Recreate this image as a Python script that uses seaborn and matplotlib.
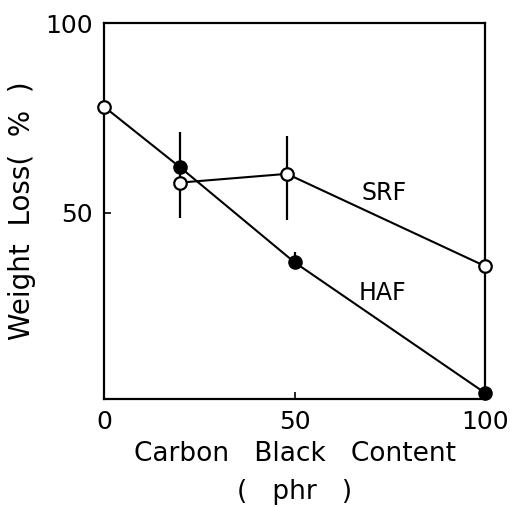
import pandas as pd
import matplotlib
matplotlib.use("Agg")
import matplotlib.pyplot as plt
import seaborn as sns

# -------- data --------
haf_x = [0, 20, 50, 100]
haf_y = [78, 62, 37, 2.6]
srf_x = [20, 48, 100]
srf_y = [58, 60.3, 36]
open_x = [0, 20, 48, 100]
open_y = [78, 58, 60.3, 36]
filled_x = [20, 50, 100]
filled_y = [62, 37, 2.6]
err_x = [20, 48, 50]
err_lo = [48.7, 48.2, 35.5]
err_hi = [71.3, 70.3, 39.7]
x_ticks = [0, 50, 100]
y_ticks = [50, 100]

haf = pd.DataFrame({"x": haf_x, "y": haf_y})
srf = pd.DataFrame({"x": srf_x, "y": srf_y})

sns.set_style("ticks", {"axes.edgecolor": "black", "text.color": "black",
                        "xtick.color": "black", "ytick.color": "black",
                        "axes.labelcolor": "black"})
plt.rcParams["font.family"] = ["DejaVu Sans"]

fig = plt.figure(figsize=(5.16, 5.07), dpi=100)
ax = fig.add_axes([0.2016, 0.213, 0.7384, 0.7414])

# error bars
ax.vlines(err_x, err_lo, err_hi, color="black", lw=1.6, zorder=2)

# lines
sns.lineplot(data=haf, x="x", y="y", ax=ax, color="black", lw=1.5, zorder=1)
sns.lineplot(data=srf, x="x", y="y", ax=ax, color="black", lw=1.5, zorder=1)

# markers
ax.plot(open_x, open_y, "o", ms=9, mfc="white", mec="black", mew=1.6,
        zorder=3, clip_on=False)
ax.plot(filled_x, filled_y, "o", ms=9.5, mfc="black", mec="black",
        zorder=4, clip_on=False)

ax.text(73.4, 55.3, "SRF", fontsize=17, ha="center", va="center", color="black")
ax.text(73, 29, "HAF", fontsize=17, ha="center", va="center", color="black")

ax.set_xlim(0, 100)
ax.set_ylim(1, 100)
ax.set_xticks(x_ticks)
ax.set_yticks(y_ticks)
ax.set_xticklabels(["0", "50", "100"], fontsize=18)
ax.set_yticklabels(["50", "100"], fontsize=18)
ax.tick_params(direction="in", length=5, width=1.2, pad=8, colors="black")

ax.set_xlabel("Carbon   Black   Content\n(   phr   )", fontsize=19,
              linespacing=1.6, labelpad=5, color="black")
ax.set_ylabel("Weight  Loss(  %  )", fontsize=20, labelpad=7, color="black")

for s in ax.spines.values():
    s.set_linewidth(1.6)
    s.set_color("black")
    s.set_visible(True)

fig.savefig("out.png", dpi=100)
